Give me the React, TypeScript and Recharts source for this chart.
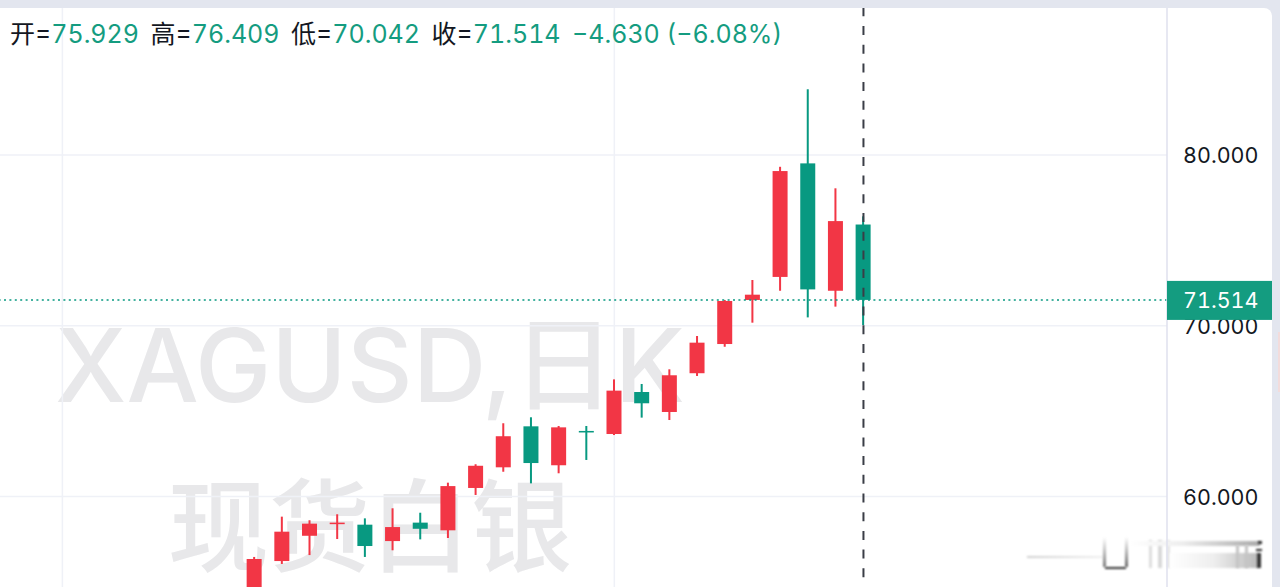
import { ComposedChart, Bar, XAxis, YAxis, CartesianGrid, ReferenceLine } from "recharts";

const opens = [54.2, 56.22, 57.7, 58.38, 58.35, 57.39, 58.47, 58.02, 60.5, 61.71, 64.11, 61.83, 63.84, 63.66, 66.12, 64.95, 67.22, 68.93, 71.51, 72.86, 79.51, 72.05, 75.929];
const highs = [56.46, 58.82, 58.61, 58.96, 58.72, 59.31, 59.05, 60.81, 61.89, 64.29, 64.64, 64.13, 64.13, 66.86, 66.59, 67.45, 69.4, 71.51, 72.68, 79.31, 83.85, 78.05, 76.409];
const lows = [53.9, 56.05, 56.57, 57.51, 56.46, 56.85, 57.49, 57.57, 60.09, 61.45, 60.77, 61.36, 62.14, 63.6, 64.62, 64.48, 67.06, 68.77, 70.18, 72.05, 70.49, 71.12, 70.042];
const closes = [56.34, 57.94, 58.41, 58.47, 57.1, 58.21, 58.11, 60.61, 61.8, 63.53, 61.96, 64.05, 63.75, 66.2, 65.46, 67.1, 69.01, 71.45, 71.82, 79.06, 72.13, 76.13, 71.514];

const priceTicks = [60, 70, 80, 71.514];
const gridPrices = [60, 70, 80];
const gridDays = [-6.94, 13];
const dayDomain = [-9.194, 32.966];
const lastPrice = 71.514;

const UP = "#f23645";
const DOWN = "#089981";
const FONT = "Inter, 'Noto Sans CJK SC', sans-serif";

// the blurred logo smudge in the bottom right corner: left, top, width, height, background
const smudges: [number, number, number, number, string][] = [
  [1027, 556, 76, 2, "linear-gradient(90deg,#d0d0d0,#f0f0f0)"],
  [1103, 537, 3, 30, "linear-gradient(180deg,#fff,#777)"],
  [1125, 537, 3, 30, "linear-gradient(180deg,#fff,#666)"],
  [1105, 567, 21, 2, "#333"],
  [1149, 540, 3, 28, "#ddd"],
  [1158, 540, 4, 28, "#d8d8d8"],
  [1167, 540, 3, 28, "#e4e4e4"],
  [1130, 541, 130, 5, "linear-gradient(90deg,#fff,#eee 40%,#aaa)"],
  [1170, 553, 88, 15, "linear-gradient(90deg,#fff,#eee 50%,#bbb)"],
  [1236, 545, 3, 23, "#c4c4c4"],
  [1245, 545, 3, 23, "#c4c4c4"],
  [1257, 553, 4, 15, "#333"],
  [1256, 549, 6, 2, "#222"],
  [1258, 541, 4, 3, "#333"],
];

const rows = opens.map((open, i) => ({ day: i, open, high: highs[i], low: lows[i], close: closes[i] }));

function Candle(props: any) {
  const { x, y, width, height, payload } = props;
  const { open, high, low, close } = payload;
  const perUnit = height / (high - low);
  const color = close < open ? DOWN : UP;
  const top = y + (high - Math.max(open, close)) * perUnit;
  const bodyH = Math.max(Math.abs(open - close) * perUnit, 1.5);
  const cx = x + width / 2;
  return (
    <g>
      <rect x={cx - 1} y={y} width={2} height={height} fill={color} />
      <rect x={x} y={top} width={width} height={bodyH} fill={color} />
    </g>
  );
}

function PriceTick(props: any) {
  const { x, y, payload } = props;
  const isLast = payload.value === lastPrice;
  return (
    <g>
      {isLast && <rect x={x - 8} y={y - 19} width={105} height={39} fill="#149c80" />}
      <text
        x={x + 8}
        y={y + 8}
        textAnchor="start"
        fontFamily={FONT}
        fontSize={21.5}
        fill={isLast ? "#fff" : "#131722"}
        style={{ fontVariantNumeric: "tabular-nums" }}
      >
        {payload.value.toFixed(3)}
      </text>
    </g>
  );
}

function Ohlc({ label, value }: { label: string; value: string }) {
  return (
    <span style={{ marginRight: 11.5 }}>
      <span style={{ color: "#131722" }}>{label}=</span>
      {value}
    </span>
  );
}

export default function App() {
  return (
    <div style={{ position: "absolute", left: 0, top: 0, width: 1280, height: 587, overflow: "hidden", background: "#e3e6ef" }}>
      <div style={{ position: "absolute", left: 0, top: 8, width: 1272, height: 579, background: "#fff", borderTopRightRadius: 8 }} />
      <div style={{ position: "absolute", left: 1278, top: 332, width: 2, height: 60, background: "#f3dcdc" }} />
      {/* watermark sits under the transparent chart */}
      <div style={{ position: "absolute", left: 55, top: 304, fontFamily: "Inter, 'Noto Sans CJK SC'", fontWeight: 500, fontSize: 102, lineHeight: "122px", color: "#e8e8ea", whiteSpace: "nowrap" }}>
        XAGUSD,日K
      </div>
      <div style={{ position: "absolute", left: 168, top: 459, fontFamily: "'Noto Sans CJK SC'", fontWeight: 500, fontSize: 101, lineHeight: "122px", color: "#e8e8ea", whiteSpace: "nowrap" }}>
        现货白银
      </div>
      {smudges.map(([left, top, width, height, background], i) => (
        <div key={i} style={{ position: "absolute", left, top, width, height, background, filter: "blur(1px)" }} />
      ))}
      <div style={{ position: "absolute", left: 0, top: 0 }}>
        <ComposedChart width={1280} height={587} data={rows} margin={{ top: 8, right: 0, bottom: 0, left: 0 }}>
          <CartesianGrid
            stroke="#eff1f7"
            strokeWidth={1.5}
            horizontalValues={gridPrices}
            verticalCoordinatesGenerator={({ offset }: any) =>
              gridDays.map((d) => offset.left + ((d - dayDomain[0]) / (dayDomain[1] - dayDomain[0])) * offset.width)
            }
          />
          <XAxis dataKey="day" type="number" domain={dayDomain} allowDataOverflow ticks={gridDays} interval={0} height={0} tick={false} axisLine={false} tickLine={false} />
          <YAxis
            orientation="right"
            width={113}
            domain={[54.7, 88.61]}
            allowDataOverflow
            ticks={priceTicks}
            interval={0}
            tick={<PriceTick />}
            tickLine={false}
            axisLine={{ stroke: "#dfe1ee", strokeWidth: 1.5 }}
          />
          <Bar dataKey={(d: any) => [d.low, d.high]} barSize={15} shape={<Candle />} isAnimationActive={false} />
          <ReferenceLine y={lastPrice} stroke="#089981" strokeDasharray="2 3.4" strokeWidth={1.5} />
          <ReferenceLine x={22} stroke="#3a3d46" strokeDasharray="9 9.7" strokeDashoffset={9} strokeWidth={2} />
        </ComposedChart>
      </div>
      <div style={{ position: "absolute", left: 10, top: 19, fontFamily: FONT, fontSize: 25, lineHeight: "30px", color: "#149c80", whiteSpace: "nowrap", fontVariantNumeric: "tabular-nums" }}>
        <Ohlc label="开" value="75.929" />
        <Ohlc label="高" value="76.409" />
        <Ohlc label="低" value="70.042" />
        <Ohlc label="收" value="71.514" />
        <span>−4.630 (−6.08%)</span>
      </div>
    </div>
  );
}
